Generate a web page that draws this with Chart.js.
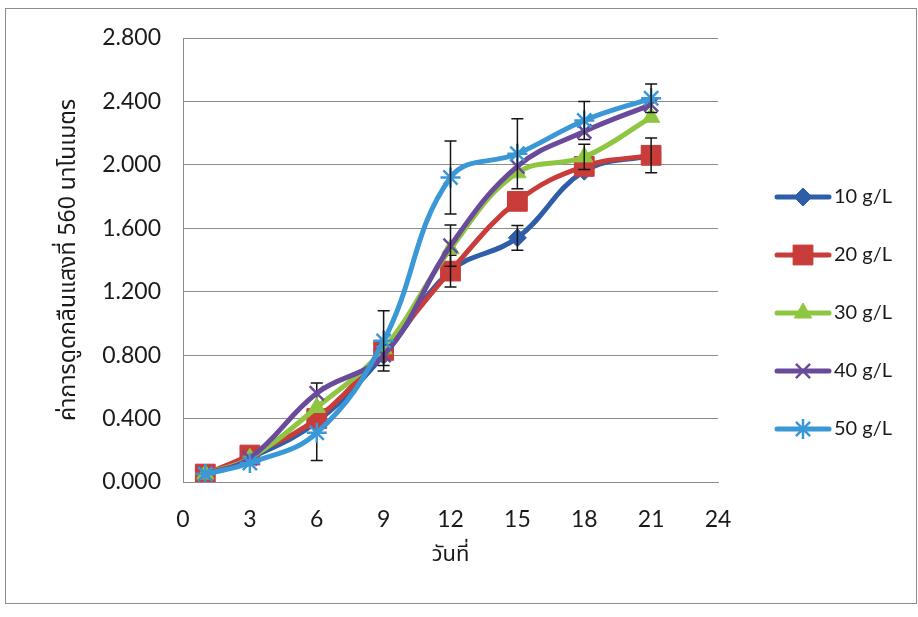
<!DOCTYPE html>
<html>
<head>
<meta charset="utf-8">
<script src="https://cdn.jsdelivr.net/npm/chart.js@4.4.1/dist/chart.umd.min.js"></script>
<style>
  html, body { margin: 0; padding: 0; background: #ffffff; }
  #wrap { position: relative; width: 918px; height: 617px; overflow: hidden; }
  #frame { position: absolute; left: 5px; top: 8px; width: 912px; height: 596px;
           border: 1px solid #8c8c8c; box-sizing: border-box; }
  canvas { position: absolute; left: 0; top: 0; }
</style>
</head>
<body>
<div id="wrap">
  <div id="frame"></div>
  <canvas id="chart" width="918" height="617"></canvas>
</div>
<script>
// Days of measurement
const days = [1, 3, 6, 9, 12, 15, 18, 21];

// Absorbance at 560 nm for each concentration
const abs10 = [0.05, 0.15, 0.38, 0.80, 1.33, 1.54, 1.96, 2.06];
const abs20 = [0.05, 0.17, 0.40, 0.83, 1.33, 1.77, 1.99, 2.06];
const abs30 = [0.05, 0.15, 0.47, 0.84, 1.47, 1.95, 2.05, 2.30];
const abs40 = [0.05, 0.15, 0.56, 0.80, 1.49, 1.99, 2.21, 2.38];
const abs50 = [0.05, 0.12, 0.31, 0.89, 1.92, 2.07, 2.28, 2.42];

// Error bar half-widths (null = no bar)
const err10 = [null, null, 0.245, null, null, 0.078, null, null];
const err20 = [null, null, null, null, 0.10, null, null, 0.11];
const err30 = [null, null, null, null, null, null, 0.08, null];
const err40 = [null, null, null, 0.066, 0.13, null, null, null];
const err50 = [null, null, null, 0.19, 0.23, 0.22, 0.12, 0.09];

const seriesNames = ['10 g/L', '20 g/L', '30 g/L', '40 g/L', '50 g/L'];
const xTicks = [0, 3, 6, 9, 12, 15, 18, 21, 24];
const yTicks = [0, 0.4, 0.8, 1.2, 1.6, 2.0, 2.4, 2.8];

const xTitle = 'วันที่';
const yTitle = 'ค่าการดูดกลืนแสงที่ 560 นาโนเมตร';

const values = [abs10, abs20, abs30, abs40, abs50];
const errors = [err10, err20, err30, err40, err50];

const colors = ['#2f5ea8', '#c83c3a', '#8fc641', '#6a4b9b', '#3a98d6'];
const shapes = ['rectRot', 'rect', 'triangle', 'crossRot', 'star'];
const radii  = [9, 14, 10, 10, 10];

const NUM_FONT = 'Lato, "Open Sans", sans-serif';
const THAI_FONT = '"Noto Sans Thai", "Noto Sans", Tahoma, sans-serif';

const datasets = values.map((vals, i) => ({
  label: seriesNames[i],
  data: days.map((d, k) => ({ x: d, y: vals[k] })),
  borderColor: colors[i],
  backgroundColor: colors[i],
  borderWidth: 5,
  tension: 0.4,
  pointStyle: shapes[i],
  pointRadius: radii[i],
  pointBackgroundColor: colors[i],
  pointBorderColor: colors[i],
  pointBorderWidth: (shapes[i] === 'crossRot' || shapes[i] === 'star') ? 2.5 : 1,
  order: values.length - 1 - i,
  fill: false
}));

function markPoint(ctx, style, radius, borderWidth, x, y) {
  const opts = { pointStyle: style, radius: radius, rotation: 0, borderWidth: borderWidth };
  if (Chart.helpers && Chart.helpers.drawPoint) {
    Chart.helpers.drawPoint(ctx, opts, x, y);
  } else {
    const p = new Chart.PointElement({ x: x, y: y });
    p.options = Object.assign({}, opts, { backgroundColor: ctx.fillStyle, borderColor: ctx.strokeStyle });
    p.draw(ctx);
  }
}

// Vertical error bars with caps, drawn with their own series
const errorBarPlugin = {
  id: 'errorBars',
  afterDatasetDraw(chart, args) {
    const i = args.index;
    const errs = errors[i];
    const ys = chart.scales.y, xs = chart.scales.x;
    const ctx = chart.ctx;
    ctx.save();
    ctx.strokeStyle = '#151515';
    ctx.lineWidth = 1.5;
    days.forEach((d, k) => {
      const e = errs[k];
      if (e == null) return;
      const v = values[i][k];
      const px = xs.getPixelForValue(d);
      const top = ys.getPixelForValue(v + e);
      const bot = ys.getPixelForValue(v - e);
      ctx.beginPath();
      ctx.moveTo(px, top); ctx.lineTo(px, bot);
      ctx.moveTo(px - 6, top); ctx.lineTo(px + 6, top);
      ctx.moveTo(px - 6, bot); ctx.lineTo(px + 6, bot);
      ctx.stroke();
    });
    ctx.restore();
  }
};

// Axis titles and the legend at the right
const decorPlugin = {
  id: 'decor',
  afterDraw(chart) {
    const ctx = chart.ctx;
    const area = chart.chartArea;
    ctx.save();
    ctx.fillStyle = '#1a1a1a';
    ctx.font = '22px ' + THAI_FONT;
    ctx.textAlign = 'center';
    ctx.textBaseline = 'middle';
    ctx.fillText(xTitle, (area.left + area.right) / 2, 557);
    ctx.save();
    ctx.translate(70, (area.top + area.bottom) / 2);
    ctx.rotate(-Math.PI / 2);
    ctx.font = '23px ' + THAI_FONT;
    ctx.fillText(yTitle, 0, 0);
    ctx.restore();

    seriesNames.forEach((name, i) => {
      const y = 197 + i * 58;
      ctx.strokeStyle = colors[i];
      ctx.fillStyle = colors[i];
      ctx.lineWidth = 5;
      ctx.lineCap = 'round';
      ctx.beginPath();
      ctx.moveTo(777, y); ctx.lineTo(829, y);
      ctx.stroke();
      ctx.lineCap = 'butt';
      ctx.lineWidth = (shapes[i] === 'crossRot' || shapes[i] === 'star') ? 2.5 : 1;
      markPoint(ctx, shapes[i], radii[i], ctx.lineWidth, 803, y);
      ctx.fillStyle = '#1a1a1a';
      ctx.font = '20px ' + NUM_FONT;
      ctx.textAlign = 'left';
      ctx.textBaseline = 'middle';
      ctx.fillText(name, 834, y);
    });
    ctx.restore();
  }
};

new Chart(document.getElementById('chart'), {
  type: 'line',
  data: { datasets: datasets },
  options: {
    responsive: false,
    animation: false,
    events: [],
    layout: { padding: { left: 0, right: 200, top: 38, bottom: 0 } },
    plugins: { legend: { display: false }, tooltip: { enabled: false } },
    scales: {
      x: {
        type: 'linear',
        min: xTicks[0],
        max: xTicks[xTicks.length - 1],
        afterFit: s => { s.height = 135; },
        afterBuildTicks: s => { s.ticks = xTicks.map(v => ({ value: v })); },
        ticks: { color: '#1a1a1a', font: { family: NUM_FONT, size: 23 }, padding: 24, maxRotation: 0,
                 callback: v => String(v) },
        grid: { display: false, drawTicks: false },
        border: { display: true, color: '#8c8c8c', width: 1 }
      },
      y: {
        min: yTicks[0],
        max: yTicks[yTicks.length - 1],
        afterFit: s => { s.width = 183; },
        afterBuildTicks: s => { s.ticks = yTicks.map(v => ({ value: v })); },
        ticks: { color: '#1a1a1a', font: { family: NUM_FONT, size: 23 }, padding: 22,
                 callback: v => Number(v).toFixed(3) },
        grid: { color: '#8c8c8c', lineWidth: 1, drawTicks: false },
        border: { display: true, color: '#8c8c8c', width: 1 }
      }
    }
  },
  plugins: [errorBarPlugin, decorPlugin]
});
</script>
</body>
</html>
